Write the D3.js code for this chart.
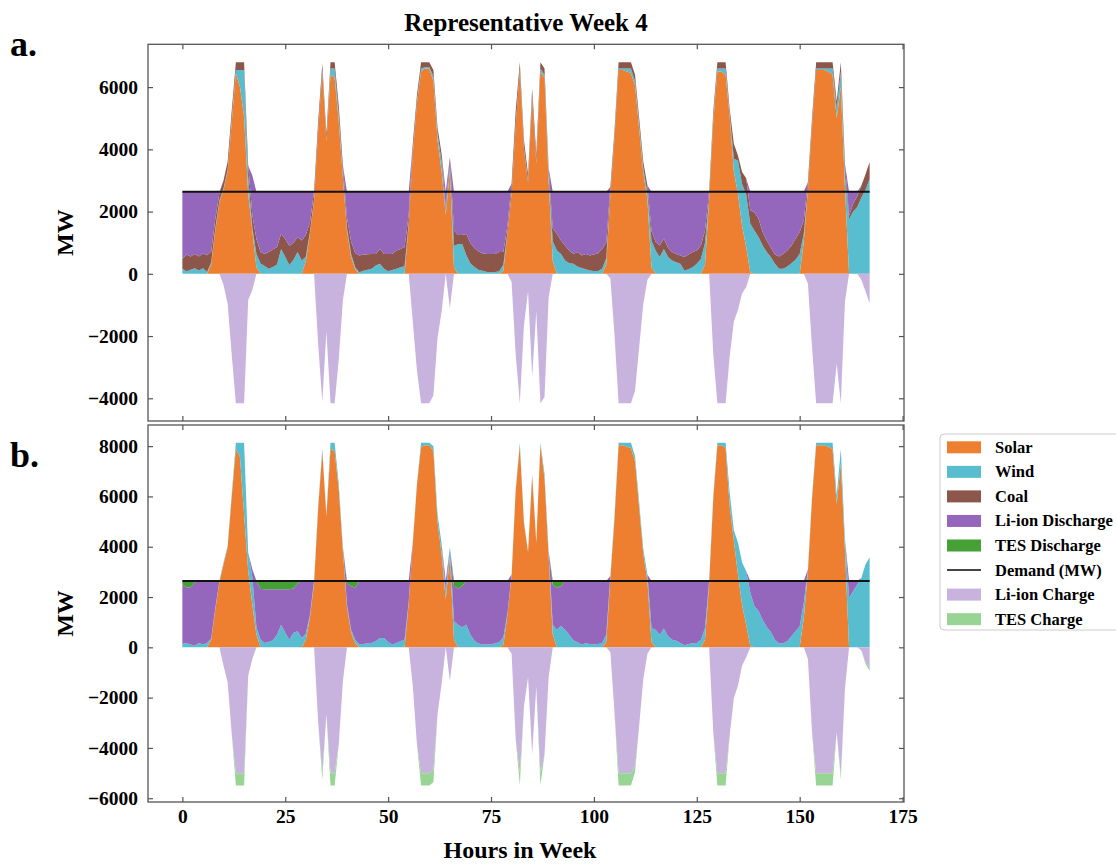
<!DOCTYPE html>
<html><head><meta charset="utf-8">
<script src="https://cdn.jsdelivr.net/npm/d3@7"></script>
<style>
body{margin:0;background:#fff}
svg{display:block}
text{font-family:"Liberation Serif","Times New Roman",serif;font-weight:bold;fill:#000}
</style>
</head><body>
<svg id="chart" width="1116" height="864"></svg>
<script>
// ---------------- data ----------------
const hours = d3.range(168);
const demandMW = 2640;
const xTicks = [0, 25, 50, 75, 100, 125, 150, 175];
const yTicksA = [-4000, -2000, 0, 2000, 4000, 6000];
const yTicksB = [-6000, -4000, -2000, 0, 2000, 4000, 6000, 8000];
const legendNames = ["Solar", "Wind", "Coal", "Li-ion Discharge", "TES Discharge", "Demand (MW)", "Li-ion Charge", "TES Charge"];

// Panel a
const aSolar = [
0,0,0,0,0,0,0,300,1400,2300,2700,3300,4900,6450,6000,5050,2570,1390,210,0,0,0,0,0,
0,0,0,0,0,0,400,1300,2340,4600,6500,4250,6400,6300,4900,3100,1390,540,150,0,0,0,0,0,
0,0,0,0,0,0,0,1600,3900,5500,6500,6600,6600,6200,4300,3300,1900,3300,200,0,0,0,0,0,
0,0,0,0,0,0,100,1300,2600,4800,6550,4000,2950,5650,3550,6500,6300,3000,400,0,0,0,0,0,
0,0,0,0,0,0,0,300,2540,4350,6550,6550,6500,6450,6050,4650,3250,2400,200,0,0,0,0,0,
0,0,0,0,0,0,0,300,2390,4900,6500,6500,6400,5040,3300,2570,1550,860,50,0,0,0,0,0,
0,0,0,0,0,0,0,1050,2700,4750,6550,6550,6550,6500,6400,5000,6000,2800,0,0,0,0,0,0];
const aWind = [
160,80,130,180,110,180,60,60,60,50,50,50,100,100,550,1500,540,100,430,330,250,160,220,300,
800,540,280,450,700,430,150,50,50,50,50,50,200,300,200,150,100,100,60,50,100,130,160,270,
320,160,80,120,160,210,240,50,50,50,100,50,50,150,200,300,100,200,700,950,960,600,330,220,
120,100,60,50,60,80,200,50,50,50,50,50,50,50,50,100,100,200,650,750,640,430,340,320,
235,190,150,110,90,90,160,200,50,50,50,50,100,150,150,150,150,200,860,750,540,800,540,430,
375,320,110,150,215,320,480,700,50,100,100,100,200,100,400,1070,1340,1700,1560,1390,1180,910,700,536,
320,160,160,235,340,450,640,240,50,50,50,50,50,100,200,300,500,400,1750,2000,2150,2450,2700,3050];
const aCoal = [
320,540,430,460,450,470,540,350,300,250,250,250,250,250,250,250,370,400,480,370,390,540,560,560,
490,580,620,550,480,640,700,300,250,250,200,200,200,200,300,250,300,400,450,540,520,500,480,370,
480,480,560,520,590,590,620,250,250,200,200,150,150,200,200,250,100,250,500,300,290,680,660,600,
600,550,580,590,580,620,400,200,250,400,200,250,200,250,250,200,200,200,400,540,430,480,410,320,
465,400,490,480,530,575,640,500,200,200,200,200,200,200,200,200,200,240,320,270,370,325,300,270,
265,270,430,470,485,430,430,400,200,200,200,200,200,150,480,160,380,510,430,590,590,430,370,304,
300,400,480,515,570,675,700,430,200,200,200,200,200,200,200,240,300,340,120,250,350,390,500,540];
const aLiDischarge = [
2160,2020,2080,2000,2080,1990,2040,1930,880,40,0,0,0,0,0,0,0,1270,1520,1940,2000,1940,1860,1780,
1350,1520,1740,1640,1460,1570,1390,990,0,0,0,0,0,0,0,0,850,1600,1980,2050,2020,2010,2000,2000,
1840,2000,2000,2000,1890,1840,1780,740,0,0,0,0,0,0,0,0,540,0,1240,1390,1390,1360,1650,1820,
1920,1990,2000,2000,2000,1940,1940,1090,0,0,0,0,0,0,0,0,0,0,1190,1350,1570,1730,1890,2000,
1940,2050,2000,2050,2020,1975,1840,1640,0,0,0,0,0,0,0,0,0,0,1260,1620,1730,1515,1800,1940,
2000,2050,2100,2020,1940,1890,1730,1240,0,0,0,0,0,0,0,0,0,0,600,660,870,1300,1570,1800,
2020,2080,2000,1890,1730,1515,1300,920,0,0,0,0,0,0,0,0,0,0,770,390,140,0,0,0];
const aLiCharge = [
0,0,0,0,0,0,0,0,0,0,-360,-960,-2610,-4160,-4160,-4160,-840,-520,0,0,0,0,0,0,
0,0,0,0,0,0,0,0,0,-2260,-4110,-1860,-4160,-4160,-2760,-860,0,0,0,0,0,0,0,0,
0,0,0,0,0,0,0,0,-1560,-3110,-4160,-4160,-4160,-3910,-2060,-1210,0,-1110,0,0,0,0,0,0,
0,0,0,0,0,0,0,0,-260,-2610,-4160,-1660,-560,-3310,-1210,-4160,-3960,-760,0,0,0,0,0,0,
0,0,0,0,0,0,0,0,-150,-1960,-4160,-4160,-4160,-4160,-3760,-2360,-960,-200,0,0,0,0,0,0,
0,0,0,0,0,0,0,0,0,-2560,-4160,-4160,-4160,-2650,-1540,-1160,-630,-430,0,0,0,0,0,0,
0,0,0,0,0,0,0,0,-310,-2360,-4160,-4160,-4160,-4160,-4160,-2900,-4160,-900,0,0,0,-200,-560,-950];

// Panel b
const bSolar = [
0,0,0,0,0,0,0,300,1500,2600,3300,3980,6000,7900,7560,5300,3030,1700,500,0,0,0,0,0,
0,0,0,0,0,0,300,1200,2540,5520,7800,5200,7900,7800,6300,3850,1600,600,150,0,0,0,0,0,
0,0,0,0,0,0,0,1760,4150,6450,7980,8030,8030,7800,5000,3700,1900,3600,300,0,0,0,0,0,
0,0,0,0,0,0,100,1300,2850,6250,8030,4950,3780,6840,4150,8030,6700,3630,500,0,0,0,0,0,
0,0,0,0,0,0,0,200,2740,5100,8030,8030,7980,7930,7400,5560,3710,2650,200,0,0,0,0,0,
0,0,0,0,0,0,0,300,2540,5900,8030,8030,7930,5600,4260,2900,1700,900,50,0,0,0,0,0,
0,0,0,0,0,0,0,1170,3000,5900,8030,8030,8030,7980,7880,5700,7300,3900,0,0,0,0,0,0];
const bWind = [
130,170,110,60,170,110,170,50,50,40,70,50,100,230,570,2830,740,1100,300,300,170,215,280,505,
900,575,300,575,640,375,240,100,100,100,100,100,230,330,200,150,100,100,150,110,130,160,175,240,
375,375,215,110,175,240,300,50,50,50,150,100,100,200,300,400,300,370,740,900,800,900,500,250,
150,110,110,110,160,200,300,50,50,50,100,50,50,50,50,100,200,200,400,700,850,700,500,270,
200,110,160,130,110,130,170,300,100,130,100,100,150,200,200,200,200,250,570,700,500,750,440,300,
265,175,80,135,160,175,300,470,100,120,100,100,200,540,400,1270,1670,2135,2120,1640,1440,1100,810,610,
305,150,160,240,440,640,830,600,100,100,100,100,100,150,250,330,590,400,1970,2240,2500,2770,3300,3570];
const bLiDischarge = [
2380,2210,2280,2520,2470,2530,2470,2290,1090,0,0,0,0,0,0,0,0,300,1840,2020,2140,2095,2030,1805,
1410,1735,2010,1765,1900,2265,2100,1340,0,0,0,0,0,0,0,0,840,1740,2070,2530,2510,2480,2465,2400,
2265,2265,2425,2530,2465,2400,2340,830,0,0,0,0,0,0,0,0,440,0,1380,1440,1640,1740,2140,2390,
2490,2530,2530,2530,2480,2440,2240,1290,0,0,0,0,0,0,0,0,0,0,1590,1670,1590,1940,2140,2370,
2440,2530,2480,2510,2530,2510,2470,2140,0,0,0,0,0,0,0,0,0,0,1870,1940,2140,1890,2200,2340,
2375,2465,2560,2505,2480,2465,2340,1870,0,0,0,0,0,0,0,0,0,0,470,1000,1200,1540,1830,2030,
2335,2490,2480,2400,2200,2000,1810,870,0,0,0,0,0,0,0,0,0,0,670,400,140,0,0,0];
const bTesDischarge = [
130,260,250,60,0,0,0,0,0,0,0,0,0,0,0,0,0,0,0,320,330,330,330,330,
330,330,330,300,100,0,0,0,0,0,0,0,0,0,0,0,100,200,270,0,0,0,0,0,
0,0,0,0,0,0,0,0,0,0,0,0,0,0,0,0,0,0,220,300,200,0,0,0,
0,0,0,0,0,0,0,0,0,0,0,0,0,0,0,0,0,0,150,270,200,0,0,0,
0,0,0,0,0,0,0,0,0,0,0,0,0,0,0,0,0,0,0,0,0,0,0,0,
0,0,0,0,0,0,0,0,0,0,0,0,0,0,0,0,0,0,0,0,0,0,0,0,
0,0,0,0,0,0,0,0,0,0,0,0,0,0,0,0,0,0,0,0,0,0,0,0];
const bLiCharge = [
0,0,0,0,0,0,0,0,0,0,-730,-1390,-3460,-5010,-5010,-5010,-1130,-460,0,0,0,0,0,0,
0,0,0,0,0,0,0,0,0,-2980,-5000,-2660,-5010,-5010,-3860,-1360,0,0,0,0,0,0,0,0,
0,0,0,0,0,0,0,0,-1560,-3860,-5010,-5010,-5010,-4900,-2660,-1460,0,-1330,0,0,0,0,0,0,
0,0,0,0,0,0,0,0,-260,-3660,-5000,-2360,-1190,-4250,-1560,-5000,-4260,-1190,0,0,0,0,0,0,
0,0,0,0,0,0,0,0,-200,-2590,-5010,-5010,-5010,-5010,-4750,-3120,-1270,-260,0,0,0,0,0,0,
0,0,0,0,0,0,0,0,0,-3380,-5010,-5010,-5010,-3500,-2020,-1530,-730,-395,0,0,0,0,0,0,
0,0,0,0,0,0,0,0,-460,-3360,-5010,-5010,-5010,-5010,-5010,-3390,-5100,-1660,0,0,0,-130,-600,-790];
const bTesCharge = [
0,0,0,0,0,0,0,0,0,0,0,0,0,-480,-480,-480,0,0,0,0,0,0,0,0,
0,0,0,0,0,0,0,0,0,0,-260,0,-480,-480,0,0,0,0,0,0,0,0,0,0,
0,0,0,0,0,0,0,0,0,0,-480,-480,-480,-460,0,0,0,0,0,0,0,0,0,0,
0,0,0,0,0,0,0,0,0,0,-490,0,0,0,0,-490,0,0,0,0,0,0,0,0,
0,0,0,0,0,0,0,0,0,0,-480,-480,-480,-480,-210,0,0,0,0,0,0,0,0,0,
0,0,0,0,0,0,0,0,0,0,-480,-480,-480,0,0,0,0,0,0,0,0,0,0,0,
0,0,0,0,0,0,0,0,0,0,-480,-480,-480,-480,-480,0,-150,0,0,0,0,0,-60,-140];

// ---------------- styling ----------------
const COLORS = {
  "Solar": "#ee7f30", "Wind": "#57bdcf", "Coal": "#8c564b",
  "Li-ion Discharge": "#9467bd", "TES Discharge": "#45a035",
  "Demand (MW)": "#111", "Li-ion Charge": "#c8b3de", "TES Charge": "#98d594"
};
const FONT = '"Liberation Serif","Times New Roman",serif';

const svg = d3.select("#chart");
const L = 148, R = 904;
const panels = [
  {top: 44.3, bottom: 421, y: d3.scaleLinear().domain([-4730, 7376]).range([421, 44.3]), ticks: yTicksA,
   pos: {"Solar": aSolar, "Wind": aWind, "Coal": aCoal, "Li-ion Discharge": aLiDischarge},
   neg: {"Li-ion Charge": aLiCharge}, tag: "a.", tagY: 56, showX: false},
  {top: 425, bottom: 802, y: d3.scaleLinear().domain([-6150, 8840]).range([802, 425]), ticks: yTicksB,
   pos: {"Solar": bSolar, "Wind": bWind, "Li-ion Discharge": bLiDischarge, "TES Discharge": bTesDischarge},
   neg: {"Li-ion Charge": bLiCharge, "TES Charge": bTesCharge}, tag: "b.", tagY: 467, showX: true}
];
const x = d3.scaleLinear().domain([-8.35, 175.35]).range([L, R]);

panels.forEach((p, pi) => {
  const g = svg.append("g");
  const clipId = "clip" + pi;
  svg.append("clipPath").attr("id", clipId).append("rect")
    .attr("x", L).attr("y", p.top).attr("width", R - L).attr("height", p.bottom - p.top);
  const plot = g.append("g").attr("clip-path", `url(#${clipId})`);

  function drawStack(obj) {
    const keys = Object.keys(obj);
    const rows = hours.map((h, i) => {
      const r = {hour: h};
      keys.forEach(k => r[k] = obj[k][i]);
      return r;
    });
    const series = d3.stack().keys(keys)(rows);
    const area = d3.area()
      .x(d => x(d.data.hour))
      .y0(d => p.y(d[0]))
      .y1(d => p.y(d[1]));
    plot.selectAll(null).data(series).join("path")
      .attr("fill", d => COLORS[d.key])
      .attr("d", area);
  }
  drawStack(p.pos);
  drawStack(p.neg);

  // demand line
  const line = d3.line().x(d => x(d)).y(() => p.y(demandMW));
  plot.append("path").datum([hours[0], hours[hours.length - 1]])
    .attr("d", line).attr("stroke", COLORS["Demand (MW)"]).attr("stroke-width", 2).attr("fill", "none");

  // axes
  const fmt = d3.format("d");
  const styleAxis = sel => {
    sel.select(".domain").remove();
    sel.selectAll(".tick line").attr("stroke", "#555").attr("stroke-width", 1.2);
    sel.selectAll("text").attr("font-family", FONT).attr("font-weight", "bold")
      .attr("font-size", 19.5).attr("fill", "#000");
  };
  g.append("g").attr("transform", `translate(${L},0)`)
    .call(d3.axisLeft(p.y).tickValues(p.ticks).tickSize(-5).tickPadding(10).tickFormat(fmt)).call(styleAxis);
  g.append("g").attr("transform", `translate(${R},0)`)
    .call(d3.axisRight(p.y).tickValues(p.ticks).tickSize(-5).tickFormat("")).call(styleAxis);
  g.append("g").attr("transform", `translate(0,${p.top})`)
    .call(d3.axisTop(x).tickValues(xTicks).tickSize(-5).tickFormat("")).call(styleAxis);
  g.append("g").attr("transform", `translate(0,${p.bottom})`)
    .call(d3.axisBottom(x).tickValues(xTicks).tickSize(-5).tickPadding(7).tickFormat(p.showX ? fmt : ""))
    .call(styleAxis);

  // frame
  g.append("rect").attr("x", L).attr("y", p.top).attr("width", R - L).attr("height", p.bottom - p.top)
    .attr("fill", "none").attr("stroke", "#555").attr("stroke-width", 1.3);

  // y label
  const cy = (p.top + p.bottom) / 2;
  g.append("text").attr("transform", `translate(73,${cy}) rotate(-90)`)
    .attr("text-anchor", "middle").attr("font-size", 24).text("MW");
  // panel tag
  g.append("text").attr("x", 10).attr("y", p.tagY).attr("font-size", 36).text(p.tag);
});

// title and x label
svg.append("text").attr("x", (L + R) / 2).attr("y", 31).attr("text-anchor", "middle")
  .attr("font-size", 25).text("Representative Week 4");
svg.append("text").attr("x", (L + R) / 2 - 6).attr("y", 858).attr("text-anchor", "middle")
  .attr("font-size", 24).text("Hours in Week");

// legend
const lg = svg.append("g");
lg.append("rect").attr("x", 940).attr("y", 434).attr("width", 200).attr("height", 196)
  .attr("rx", 4).attr("fill", "#fff").attr("stroke", "#ccc").attr("stroke-width", 1);
legendNames.forEach((name, i) => {
  const cy = 447.3 + i * 24.55;
  if (name === "Demand (MW)") {
    lg.append("line").attr("x1", 947).attr("x2", 981).attr("y1", cy).attr("y2", cy)
      .attr("stroke", "#444").attr("stroke-width", 2);
  } else {
    lg.append("rect").attr("x", 947).attr("y", cy - 6).attr("width", 34).attr("height", 12)
      .attr("fill", COLORS[name]);
  }
  lg.append("text").attr("x", 995).attr("y", cy + 5.5).attr("font-size", 16.5).text(name);
});
</script>
</body></html>
